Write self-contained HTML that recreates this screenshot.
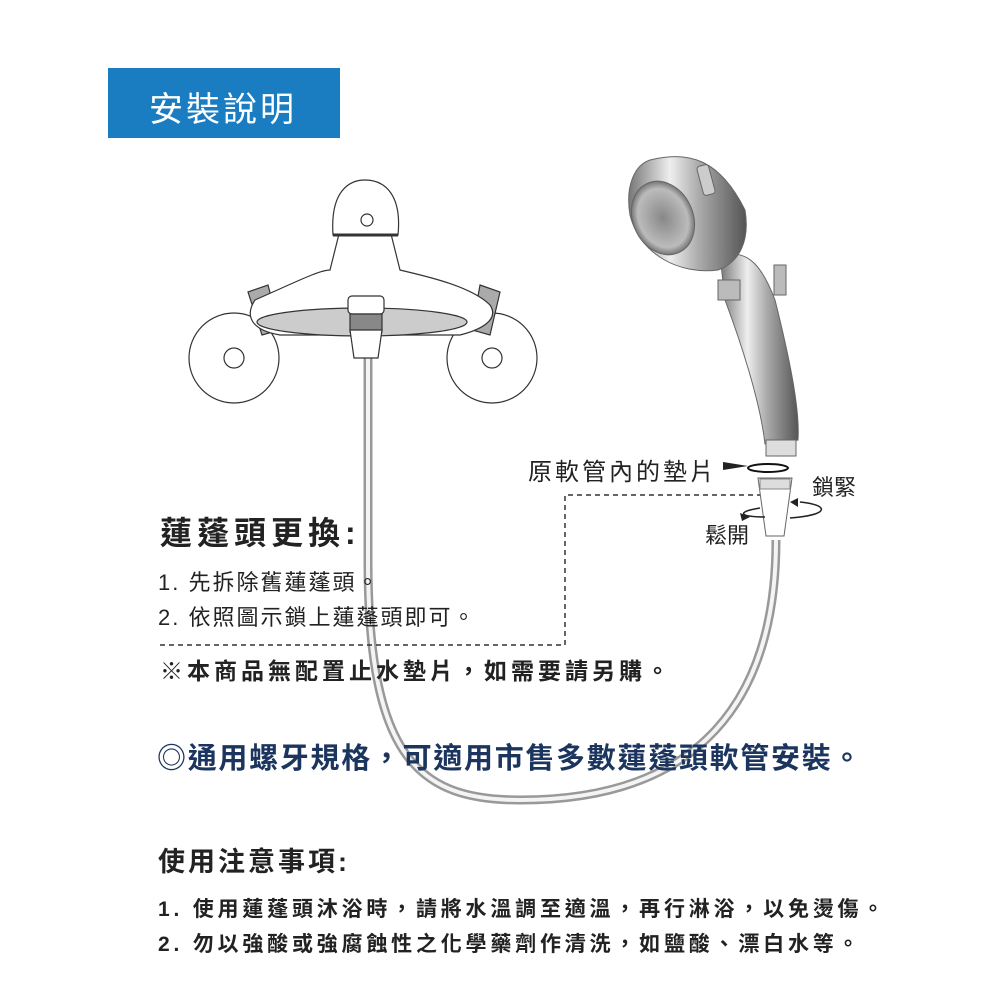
<!DOCTYPE html>
<html><head><meta charset="utf-8"><style>
body{margin:0;width:1000px;height:1000px;background:#fff;position:relative;overflow:hidden;font-family:"Liberation Sans","Noto Sans CJK TC",sans-serif}
.t{position:absolute;white-space:nowrap;color:#222}
</style></head><body>
<svg width="1000" height="1000" style="position:absolute;left:0;top:0">
<defs>
<linearGradient id="ch" x1="0" x2="1"><stop offset="0" stop-color="#777"/><stop offset=".35" stop-color="#eee"/><stop offset=".6" stop-color="#aaa"/><stop offset="1" stop-color="#555"/></linearGradient>
<radialGradient id="hd" cx=".5" cy=".5" r=".5"><stop offset="0" stop-color="#888"/><stop offset=".8" stop-color="#bbb"/><stop offset="1" stop-color="#777"/></radialGradient>
</defs>
<rect x="108" y="68" width="232" height="70" fill="#1a7cc1"/>
<path d="M368,350 L368,560 C368,760 420,800 520,800 C700,800 776,700 776,540" fill="none" stroke="#999" stroke-width="9"/>
<path d="M368,350 L368,560 C368,760 420,800 520,800 C700,800 776,700 776,540" fill="none" stroke="#f4f4f4" stroke-width="4"/>
<g fill="#fff" stroke="#333" stroke-width="1.2">
<circle cx="234" cy="358" r="45"/><circle cx="492" cy="358" r="45"/>
<path d="M248,292 L268,285 L280,330 L262,335 Z" fill="#aaa"/>
<path d="M480,285 L500,292 L490,335 L472,330 Z" fill="#aaa"/>
<path d="M255,300 C300,280 320,270 330,270 L340,230 L390,230 L400,270 C420,275 470,285 490,305 C500,320 480,330 460,335 L280,335 C250,330 245,315 255,300Z"/>
<ellipse cx="362" cy="322" rx="105" ry="14" fill="#ccc"/>
<path d="M333,235 C330,190 350,180 365,180 C385,180 402,195 398,235Z"/>
<line x1="333" y1="235" x2="398" y2="235" stroke-width="3"/>
<circle cx="367" cy="220" r="6"/>
<rect x="348" y="296" width="36" height="18" rx="4"/>
<rect x="350" y="314" width="32" height="18" fill="#888"/>
<path d="M350,330 L382,330 L378,358 L354,358Z"/>
<circle cx="234" cy="358" r="10"/><circle cx="492" cy="358" r="10"/>
</g>
<g stroke="#666" stroke-width="1">
<path d="M720,255 C745,250 760,260 775,300 C790,360 800,410 798,440 L765,444 C760,400 740,340 725,300Z" fill="url(#ch)"/>
<path d="M650,160 C690,150 720,160 745,210 C750,240 740,262 718,270 C680,275 640,255 630,215 C625,185 635,165 650,160Z" fill="url(#ch)"/>
<ellipse cx="663" cy="218" rx="30" ry="38" transform="rotate(-25 663 218)" fill="url(#hd)"/>
<rect x="700" y="165" width="12" height="30" rx="3" fill="#ccc" transform="rotate(-15 706 180)"/>
<rect x="718" y="280" width="22" height="20" fill="#bbb"/>
<rect x="774" y="265" width="12" height="30" fill="#bbb"/>
<rect x="766" y="440" width="30" height="16" fill="#ddd"/>
</g>
<ellipse cx="768" cy="468" rx="20" ry="4" fill="none" stroke="#111" stroke-width="2"/>
<path d="M723,462 L748,466 L723,470Z" fill="#222"/>
<path d="M758,478 L792,478 L784,536 L766,536Z" fill="#fff" stroke="#666"/>
<rect x="760" y="479" width="30" height="10" fill="#ddd" stroke="#888"/>
<path d="M800,502 C830,505 830,515 790,518" fill="none" stroke="#222" stroke-width="1.5"/>
<path d="M798,498 L790,502 L798,507" fill="#222"/>
<path d="M765,517 C740,517 735,512 760,508" fill="none" stroke="#222" stroke-width="1.5"/>
<path d="M740,513 L750,517 L742,521Z" fill="#222"/>
<path d="M160,645 L565,645 L565,495 L760,495" fill="none" stroke="#333" stroke-width="1.5" stroke-dasharray="5,4"/>
</svg>
<div class="t" style="left:149px;top:82px;font-size:34px;color:#fff;letter-spacing:3px">安裝說明</div>
<div class="t" style="left:528px;top:452px;font-size:24px;letter-spacing:3px">原軟管內的墊片</div>
<div class="t" style="left:812px;top:470px;font-size:22px">鎖緊</div>
<div class="t" style="left:705px;top:518px;font-size:22px">鬆開</div>
<div class="t" style="left:160px;top:508px;font-size:32px;font-weight:bold;letter-spacing:5px">蓮蓬頭更換:</div>
<div class="t" style="left:158px;top:565px;font-size:22px;letter-spacing:2px">1. 先拆除舊蓮蓬頭。</div>
<div class="t" style="left:158px;top:600px;font-size:22px;letter-spacing:2px">2. 依照圖示鎖上蓮蓬頭即可。</div>
<div class="t" style="left:160px;top:652px;font-size:23px;font-weight:bold;letter-spacing:4px">※本商品無配置止水墊片，如需要請另購。</div>
<div class="t" style="left:157px;top:735px;font-size:29px;font-weight:bold;color:#1c355e;letter-spacing:1.7px">◎通用螺牙規格，可適用市售多數蓮蓬頭軟管安裝。</div>
<div class="t" style="left:158px;top:840px;font-size:27px;font-weight:bold;letter-spacing:3px">使用注意事項:</div>
<div class="t" style="left:158px;top:893px;font-size:21px;font-weight:bold;letter-spacing:3.8px">1. 使用蓮蓬頭沐浴時，請將水溫調至適溫，再行淋浴，以免燙傷。</div>
<div class="t" style="left:158px;top:928px;font-size:21px;font-weight:bold;letter-spacing:3.8px">2. 勿以強酸或強腐蝕性之化學藥劑作清洗，如鹽酸、漂白水等。</div>
</body></html>
